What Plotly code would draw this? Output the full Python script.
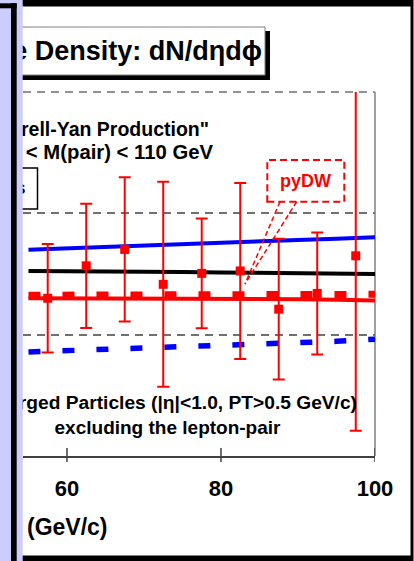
import plotly.graph_objects as go

W, H = 414, 561

# Lepton-pair PT bins (bin centres, GeV/c) and measured charged-particle density
PT_BINS = [57.5, 62.5, 67.5, 72.5, 77.5, 82.5, 87.5, 92.5, 97.5]
DENSITY = [0.520, 0.627, 0.681, 0.566, 0.602, 0.610, 0.484, 0.536, 0.660]
DENSITY_ERR = [0.179, 0.205, 0.238, 0.338, 0.181, 0.290, 0.232, 0.201, 0.577]

# Model predictions sampled along PT(pair)
PT_CURVE = [55, 60, 65, 70, 75, 80, 85, 90, 95, 100]
RED_SOLID = [0.520, 0.520, 0.520, 0.520, 0.520, 0.520, 0.519, 0.517, 0.515, 0.513]
RED_DASH = [0.530, 0.530, 0.531, 0.531, 0.532, 0.532, 0.533, 0.533, 0.533, 0.533]
BLACK_SOLID = [0.610, 0.610, 0.610, 0.609, 0.607, 0.605, 0.604, 0.603, 0.601, 0.600]
BLUE_SOLID = [0.680, 0.685, 0.689, 0.694, 0.698, 0.703, 0.707, 0.712, 0.716, 0.721]
BLUE_DASH = [0.343, 0.347, 0.351, 0.354, 0.358, 0.362, 0.367, 0.372, 0.378, 0.385]

X_TICKS = [60, 80, 100]
X_TICK_TEXT = ["60", "80", "100"]
X_RANGE = [54.29, 100]
Y_RANGE = [0, 1.2]
Y_STEP = 0.4

FONT = "Liberation Sans, Arial, sans-serif"

# plot-area edges in page pixels
PL, PR, PT, PB = 23, 375, 92, 456


def fx(x):
    return x / W


def fy(y):
    return 1 - y / H


fig = go.Figure()

curves = [
    ("pyAW (transverse)", BLUE_DASH, "#0000FF", 5.5, "12px,22px"),
    ("pyAW", BLUE_SOLID, "#0000FF", 4, "solid"),
    ("HW", BLACK_SOLID, "#000000", 4, "solid"),
    ("pyDW (no MPI)", RED_DASH, "#FF0000", 7, "12px,22px"),
    ("pyDW", RED_SOLID, "#FF0000", 4, "solid"),
]
for name, ys, col, lw, dash in curves:
    fig.add_trace(go.Scatter(
        x=PT_CURVE, y=ys, mode="lines", name=name,
        line=dict(color=col, width=lw, dash=dash),
        showlegend=False, hoverinfo="skip",
    ))

fig.add_trace(go.Scatter(
    x=PT_BINS, y=DENSITY, mode="markers", name="CDF data",
    marker=dict(symbol="square", size=9, color="#FF0000"),
    error_y=dict(type="data", array=DENSITY_ERR, color="#FF0000",
                 thickness=2, width=6),
    showlegend=False,
))

# free text laid out in page pixels on a full-page helper axis
texts = [
    (262, 53, "<b>Charged Particle Density: dN/dηdϕ</b>", 27, "black", "middle left"),
    (209, 131, "<b>\"Drell-Yan Production\"</b>", 19.5, "black", "middle left"),
    (213, 154, "<b>70 &lt; M(pair) &lt; 110 GeV</b>", 20.3, "black", "middle left"),
    (25.5, 189, "<b>PYTHIA Tunes</b>", 19, "black", "middle left"),
    (357, 404, "<b>Charged Particles (|η|&lt;1.0, PT&gt;0.5 GeV/c)</b>", 19.2, "black", "middle left"),
    (167.5, 429, "<b>excluding the lepton-pair</b>", 19, "black", "middle center"),
    (107.5, 529, "<b>Lepton-Pair PT (GeV/c)</b>", 23, "black", "middle left"),
    (305.5, 182, "<b>pyDW</b>", 18, "#FF0000", "middle center"),
]
for x, y, t, size, col, pos in texts:
    fig.add_trace(go.Scatter(
        x=[x], y=[y], text=[t], mode="text", textposition=pos,
        textfont=dict(family=FONT, size=size, color=col),
        xaxis="x2", yaxis="y2", showlegend=False, hoverinfo="skip",
    ))

shapes = []


def rect(x0, y0, x1, y1, fill=None, line_color=None, lw=0, dash="solid", layer="below"):
    shapes.append(dict(
        type="rect", xref="paper", yref="paper",
        x0=fx(x0), x1=fx(x1), y0=fy(y1), y1=fy(y0),
        fillcolor=fill if fill else "rgba(0,0,0,0)",
        line=dict(color=line_color if line_color else "rgba(0,0,0,0)", width=lw, dash=dash),
        layer=layer,
    ))


def seg(x0, y0, x1, y1, color, lw, dash="solid", layer="below"):
    shapes.append(dict(
        type="line", xref="paper", yref="paper",
        x0=fx(x0), x1=fx(x1), y0=fy(y0), y1=fy(y1),
        line=dict(color=color, width=lw, dash=dash), layer=layer,
    ))


# slide frame
rect(17, 0, 413.5, 561, fill="#000000")
rect(17, 6.5, 410.5, 555.5, fill="#FFFFFF")

# title box with drop shadow
rect(17, 31, 270, 80, fill="#000000")
rect(17, 27, 265, 75, fill="#FFFFFF", line_color="#808080", lw=1)

# legend box
rect(10, 168, 37.5, 209, fill="#FFFFFF", line_color="#000000", lw=1.5)

# top grid line and right border of the plot
seg(PL, PT, PR, PT, "#707070", 1.5, dash="8px,6px")
seg(PR, PT, PR, PB, "#808080", 1.5)

# crossing tick marks on the x axis
for t in X_TICKS:
    shapes.append(dict(
        type="line", xref="x", yref="paper", x0=t, x1=t,
        y0=fy(PB + 6), y1=fy(PB - 8),
        line=dict(color="#404040", width=1.5), layer="above",
    ))

# pyDW callout
rect(267.3, 160, 344.3, 201.7, line_color="#FF0000", lw=2, dash="7px,4px", layer="above")
seg(280, 201.7, 245, 284, "#FF0000", 1.5, dash="5px,3px", layer="above")
seg(296.7, 201.7, 245, 284, "#FF0000", 1.5, dash="5px,3px", layer="above")

# side panel
rect(0, 0, 22.7, 561, fill="#CCCCFF", layer="above")
rect(0, 3.3, 16.7, 8.3, fill="#000000", layer="above")
rect(11, 3.3, 16.7, 561, fill="#000000", layer="above")

fig.update_layout(
    width=W, height=H, autosize=False,
    margin=dict(l=0, r=0, t=0, b=0, autoexpand=False),
    paper_bgcolor="#FFFFFF",
    plot_bgcolor="rgba(0,0,0,0)",
    showlegend=False,
    shapes=shapes,
    xaxis=dict(
        domain=[fx(PL), fx(PR)], range=X_RANGE,
        tickmode="array", tickvals=X_TICKS,
        ticktext=["<b>%s</b>" % s for s in X_TICK_TEXT],
        tickfont=dict(family=FONT, size=22, color="black"),
        ticks="", ticklabelstandoff=12,
        showline=True, linecolor="#404040", linewidth=1.5,
        showgrid=False, zeroline=False,
    ),
    yaxis=dict(
        domain=[fy(PB), fy(PT)], range=Y_RANGE,
        dtick=Y_STEP, tick0=0,
        showticklabels=False, ticks="",
        showgrid=True, gridcolor="#707070", gridwidth=1.5, griddash="8px,6px",
        showline=False, zeroline=False,
    ),
    xaxis2=dict(domain=[0, 1], range=[0, W], visible=False, anchor="y2"),
    yaxis2=dict(domain=[0, 1], range=[H, 0], visible=False, anchor="x2"),
)

fig.write_html("out.html", config={"displayModeBar": False, "responsive": False})
